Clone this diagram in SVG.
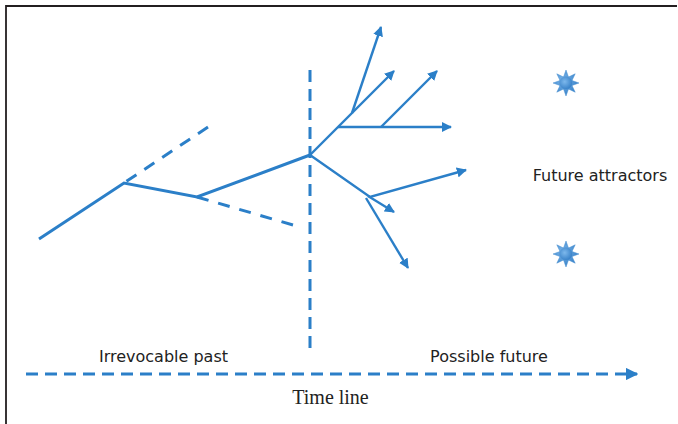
<svg xmlns="http://www.w3.org/2000/svg" width="678" height="424" viewBox="0 0 678 424">
<defs>
<style>
.ln{fill:none;stroke:#2B7FC8;stroke-width:2.4;stroke-linecap:butt}
.thick{stroke-width:3}
.txt{font-family:"DejaVu Sans",Verdana,sans-serif;font-size:16px;fill:#222}
.serif{font-family:"Liberation Serif","Times New Roman",serif;font-size:20px;fill:#222}
</style>
<marker id="ah" viewBox="0 0 10 10" refX="9" refY="5" markerWidth="4.2" markerHeight="4.2" markerUnits="strokeWidth" orient="auto">
<path d="M0,0 L10,5 L0,10 Z" fill="#2B7FC8"/>
</marker>
<radialGradient id="sg" cx="0.4" cy="0.4" r="0.7">
<stop offset="0" stop-color="#7DB8EC"/>
<stop offset="1" stop-color="#2C78C2"/>
</radialGradient>
<g id="sun">
<polygon points="0,-13 2.5,-6 9.2,-9.2 6,-2.5 13,0 6,2.5 9.2,9.2 2.5,6 0,13 -2.5,6 -9.2,9.2 -6,2.5 -13,0 -6,-2.5 -9.2,-9.2 -2.5,-6" fill="url(#sg)" stroke="#4A90D0" stroke-width="0.5"/>
<circle r="6.5" fill="url(#sg)" stroke="#5A9AD6" stroke-width="0.6"/>
</g>
</defs>
<rect width="678" height="424" fill="#fff"/>
<g id="border" stroke="#231F20" stroke-width="1.8" fill="none">
<path d="M6,424 V6 H677"/>
</g>
<g id="connectors">
<path class="ln thick" d="M39,239 L124,183 L197,197 L310,155"/>
<path class="ln thick" d="M208,127 L124,183" stroke-dasharray="12 9.5"/>
<path class="ln thick" d="M197,197 L293,225" stroke-dasharray="12 10"/>
<path class="ln thick" d="M310,70 V348" stroke-dasharray="12 7"/>
<path class="ln" d="M310,155 L394,71" marker-end="url(#ah)"/>
<path class="ln" d="M352,113 L381,27" marker-end="url(#ah)"/>
<path class="ln" d="M338,127 L451,127" marker-end="url(#ah)"/>
<path class="ln" d="M381,127 L437,71" marker-end="url(#ah)"/>
<path class="ln" d="M310,155 L370,197 L466,170" marker-end="url(#ah)"/>
<path class="ln" d="M368,196 L394,212" marker-end="url(#ah)"/>
<path class="ln" d="M366,198 L408,268" marker-end="url(#ah)"/>
<path class="ln thick" d="M26,374 H637" stroke-dasharray="12 7" marker-end="url(#ah)"/>
</g>
<g id="attractor1"><use href="#sun" x="566" y="83"/></g>
<g id="attractor2"><use href="#sun" x="566" y="254"/></g>
<g id="labels">
<text class="txt" x="163.5" y="362" text-anchor="middle">Irrevocable past</text>
<text class="txt" x="489" y="362" text-anchor="middle">Possible future</text>
<text class="txt" x="600" y="181" text-anchor="middle">Future attractors</text>
<text class="serif" x="330.5" y="404" text-anchor="middle">Time line</text>
</g>
</svg>
